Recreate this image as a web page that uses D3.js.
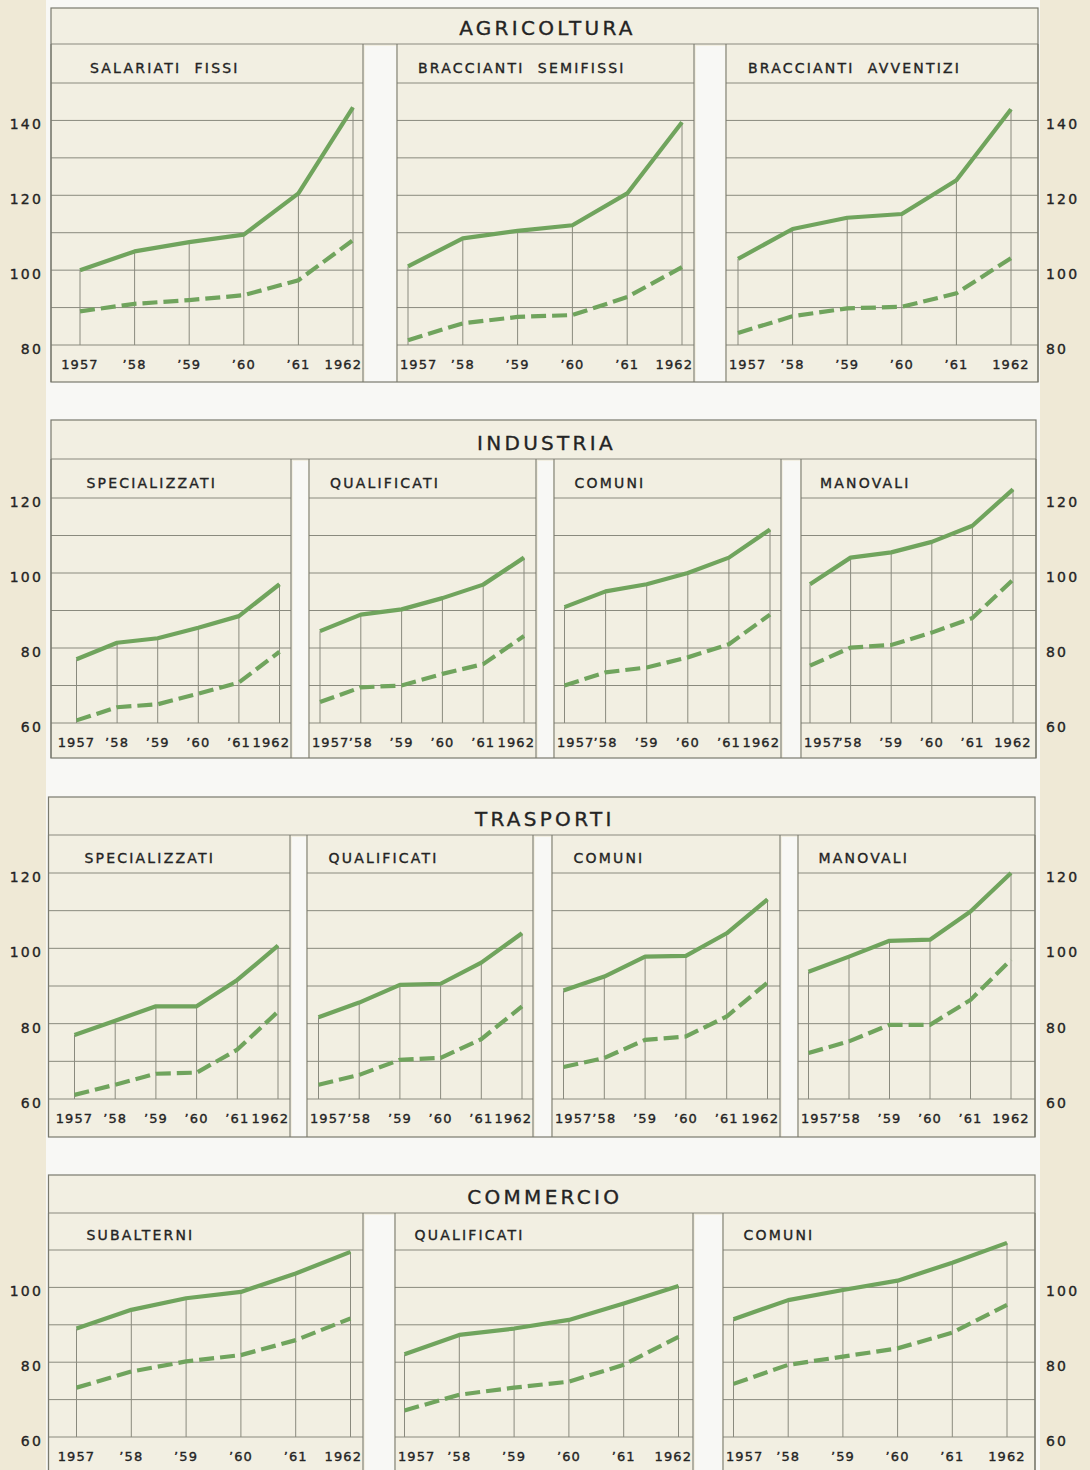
<!DOCTYPE html>
<html>
<head>
<meta charset="utf-8">
<script src="https://cdn.jsdelivr.net/npm/d3@7"></script>
<style>
  html, body { margin: 0; padding: 0; background: #efe9d6; }
  svg { display: block; }
  text { font-family: "DejaVu Sans", "Liberation Sans", sans-serif; fill: #242424; stroke: #242424; stroke-width: 0.35px; }
</style>
</head>
<body>
<svg id="chart" width="1090" height="1470"></svg>
<script>
// Indici delle retribuzioni 1957–1962: linea continua e linea tratteggiata per categoria
const years = ["1957", "’58", "’59", "’60", "’61", "1962"];

const agricolturaGroups = ["SALARIATI  FISSI", "BRACCIANTI  SEMIFISSI", "BRACCIANTI  AVVENTIZI"];
const agricolturaSolid = [
  [100, 105, 107.5, 109.5, 120.5, 143.5],
  [101, 108.5, 110.5, 112, 120.5, 139.5],
  [103, 111, 114, 115, 124, 143]
];
const agricolturaDashed = [
  [89, 91, 92, 93.3, 97.3, 108],
  [81.3, 85.8, 87.5, 88, 92.8, 100.8],
  [83.2, 87.7, 89.8, 90.2, 93.8, 103.2]
];
const agricolturaTicks = [80, 100, 120, 140];
const agricolturaRange = [80, 150];

const industriaGroups = ["SPECIALIZZATI", "QUALIFICATI", "COMUNI", "MANOVALI"];
const industriaSolid = [
  [77, 81.4, 82.6, 85.4, 88.5, 97],
  [84.5, 88.9, 90.3, 93.3, 96.9, 104.1],
  [90.9, 95.1, 97, 100, 104.1, 111.6],
  [97, 104.1, 105.5, 108.3, 112.6, 122.3]
];
const industriaDashed = [
  [60.7, 64.2, 65, 67.8, 70.8, 79],
  [65.6, 69.5, 70, 73.1, 75.7, 83.2],
  [70, 73.5, 74.8, 77.5, 81, 88.9],
  [75.3, 80.1, 80.8, 84.1, 88, 98.2]
];
const industriaTicks = [60, 80, 100, 120];
const industriaRange = [60, 120];

const trasportiGroups = ["SPECIALIZZATI", "QUALIFICATI", "COMUNI", "MANOVALI"];
const trasportiSolid = [
  [77, 80.8, 84.6, 84.6, 91.6, 100.7],
  [81.7, 85.6, 90.3, 90.6, 96.2, 104],
  [88.8, 92.5, 97.8, 98, 104, 113],
  [93.8, 97.8, 102, 102.3, 109.8, 120]
];
const trasportiDashed = [
  [61.1, 63.8, 66.7, 67, 73.1, 83.2],
  [63.8, 66.4, 70.4, 70.9, 75.9, 84.6],
  [68.5, 70.9, 75.7, 76.6, 81.9, 90.9],
  [72.2, 75.3, 79.7, 79.7, 86.3, 97]
];
const trasportiTicks = [60, 80, 100, 120];
const trasportiRange = [60, 120];

const commercioGroups = ["SUBALTERNI", "QUALIFICATI", "COMUNI"];
const commercioSolid = [
  [89, 94, 97.1, 98.8, 103.7, 109.5],
  [82.1, 87.3, 89, 91.3, 95.7, 100.4],
  [91.5, 96.6, 99.3, 101.8, 106.6, 111.9]
];
const commercioDashed = [
  [73.2, 77.5, 80.2, 81.9, 85.9, 91.7],
  [67.1, 71.3, 73.2, 74.8, 79.3, 86.8],
  [74.2, 79.3, 81.5, 83.7, 87.9, 95.3]
];
const commercioTicks = [60, 80, 100];
const commercioRange = [60, 110];

const sectionTitles = ["AGRICOLTURA", "INDUSTRIA", "TRASPORTI", "COMMERCIO"];

// Geometry of the four framed blocks
const layouts = [
  { top: 8, titleBottom: 44, subBottom: 83, gridBottom: 345, bottom: 382, left: 51, right: 1038,
    panels: [[51, 363], [397, 694], [726, 1038]],
    plots: [[80, 353], [408, 682], [738, 1011]] },
  { top: 420, titleBottom: 459, subBottom: 498, gridBottom: 723, bottom: 758, left: 51, right: 1036,
    panels: [[51, 291], [309, 536], [554, 781], [801, 1036]],
    plots: [[76.5, 279.5], [320, 524], [564.5, 770], [810, 1013]] },
  { top: 797, titleBottom: 835, subBottom: 873, gridBottom: 1099, bottom: 1137, left: 48.5, right: 1035,
    panels: [[48.5, 290], [307, 533], [552, 780], [798, 1035]],
    plots: [[74.5, 278], [318.5, 522], [563.5, 767.5], [808.5, 1011]] },
  { top: 1175, titleBottom: 1213, subBottom: 1250, gridBottom: 1437, bottom: 1478, left: 48.5, right: 1035,
    panels: [[48.5, 363], [395, 693], [723, 1035]],
    plots: [[76.5, 350.5], [404.5, 678.5], [733.5, 1007]] }
];

const sections = [
  { groups: agricolturaGroups, solid: agricolturaSolid, dashed: agricolturaDashed, ticks: agricolturaTicks, range: agricolturaRange },
  { groups: industriaGroups, solid: industriaSolid, dashed: industriaDashed, ticks: industriaTicks, range: industriaRange },
  { groups: trasportiGroups, solid: trasportiSolid, dashed: trasportiDashed, ticks: trasportiTicks, range: trasportiRange },
  { groups: commercioGroups, solid: commercioSolid, dashed: commercioDashed, ticks: commercioTicks, range: commercioRange }
];

const COL = {
  margin: "#efe9d6",
  paper: "#f8f8f5",
  panel: "#f2efe2",
  rule: "#8a8a7e",
  frame: "#7a7a6e",
  green: "#70a45d"
};

const svg = d3.select("#chart");

svg.append("rect").attr("x", 0).attr("y", 0).attr("width", 1090).attr("height", 1470).attr("fill", COL.margin);
svg.append("rect").attr("x", 46).attr("y", 0).attr("width", 994).attr("height", 1470).attr("fill", COL.paper);

sections.forEach((sec, si) => {
  const L = layouts[si];
  const g = svg.append("g");

  const y = d3.scaleLinear().domain(sec.range).range([L.gridBottom, L.subBottom]);

  // block background
  g.append("rect")
    .attr("x", L.left).attr("y", L.top)
    .attr("width", L.right - L.left).attr("height", L.bottom - L.top)
    .attr("fill", COL.panel);

  // white gutters between panels
  for (let p = 0; p < L.panels.length - 1; p++) {
    const a = L.panels[p][1], b = L.panels[p + 1][0];
    g.append("rect")
      .attr("x", a + 2).attr("y", L.titleBottom + 2)
      .attr("width", b - a - 3).attr("height", L.bottom - L.titleBottom - 2)
      .attr("fill", COL.paper);
  }

  // title band rule
  g.append("line")
    .attr("x1", L.left).attr("x2", L.right)
    .attr("y1", L.titleBottom).attr("y2", L.titleBottom)
    .attr("stroke", COL.rule).attr("stroke-width", 1.1);

  g.append("text")
    .attr("x", (L.left + L.right) / 2 + 3)
    .attr("y", L.titleBottom - 9)
    .attr("text-anchor", "middle")
    .attr("font-size", 20)
    .attr("letter-spacing", 3.3)
    .text(sectionTitles[si]);

  const gridValues = y.ticks(Math.round((sec.range[1] - sec.range[0]) / 10));

  sec.groups.forEach((name, pi) => {
    const [pl, pr] = L.panels[pi];
    const x = d3.scalePoint().domain(years).range(L.plots[pi]);
    const pg = g.append("g");

    // horizontal grid
    pg.selectAll("line.grid")
      .data(gridValues)
      .join("line")
      .attr("class", "grid")
      .attr("x1", pl).attr("x2", pr)
      .attr("y1", d => y(d)).attr("y2", d => y(d))
      .attr("stroke", COL.rule).attr("stroke-width", 1);

    // panel side borders
    [pl, pr].forEach(px => {
      pg.append("line")
        .attr("x1", px).attr("x2", px)
        .attr("y1", L.titleBottom).attr("y2", L.bottom)
        .attr("stroke", COL.frame).attr("stroke-width", 1.1);
    });

    // drop lines from the solid series down to the base
    pg.selectAll("line.drop")
      .data(sec.solid[pi])
      .join("line")
      .attr("class", "drop")
      .attr("x1", (d, i) => x(years[i])).attr("x2", (d, i) => x(years[i]))
      .attr("y1", L.gridBottom).attr("y2", d => y(d))
      .attr("stroke", COL.rule).attr("stroke-width", 1);

    // group label
    pg.append("text")
      .attr("x", L.plots[pi][0] + 10)
      .attr("y", L.subBottom - 10.5)
      .attr("font-size", 14)
      .attr("letter-spacing", 2.2)
      .style("white-space", "pre")
      .text(name);

    const line = d3.line()
      .x((d, i) => x(years[i]))
      .y(d => y(d));

    pg.append("path")
      .attr("d", line(sec.dashed[pi]))
      .attr("fill", "none")
      .attr("stroke", COL.green)
      .attr("stroke-width", 4.2)
      .attr("stroke-dasharray", "15,6");

    pg.append("path")
      .attr("d", line(sec.solid[pi]))
      .attr("fill", "none")
      .attr("stroke", COL.green)
      .attr("stroke-width", 4.2)
      .attr("stroke-linejoin", "round");

    // year labels, kept inside the panel
    years.forEach(yr => {
      const t = pg.append("text")
        .attr("y", L.gridBottom + 24)
        .attr("font-size", 13)
        .attr("letter-spacing", 1.1)
        .text(yr);
      const w = t.node().getComputedTextLength();
      let x0 = x(yr) - w / 2;
      x0 = Math.max(pl + 3, Math.min(pr - 1 - w, x0));
      t.attr("x", x0);
    });
  });

  // frame
  g.append("rect")
    .attr("x", L.left).attr("y", L.top)
    .attr("width", L.right - L.left).attr("height", L.bottom - L.top)
    .attr("fill", "none")
    .attr("stroke", COL.frame).attr("stroke-width", 1.2);

  // value labels on both sides
  sec.ticks.forEach(v => {
    const ly = y(v) + 9;
    svg.append("text")
      .attr("x", 43).attr("y", ly)
      .attr("text-anchor", "end")
      .attr("font-size", 14)
      .attr("letter-spacing", 2.2)
      .text(v);
    svg.append("text")
      .attr("x", 1046).attr("y", ly)
      .attr("font-size", 14)
      .attr("letter-spacing", 2.2)
      .text(v);
  });
});
</script>
</body>
</html>
